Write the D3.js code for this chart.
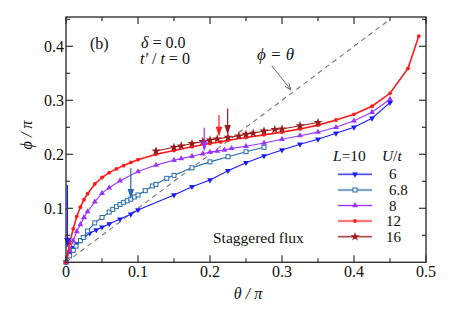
<!DOCTYPE html>
<html>
<head>
<meta charset="utf-8">
<script src="https://cdn.jsdelivr.net/npm/d3@7"></script>
<style>
body { margin: 0; background: #fff; }
</style>
</head>
<body>
<div id="plot"></div>
<script>
// series (theta/pi, phi/pi)
var theta6 = [0, 0.005, 0.01, 0.015, 0.02, 0.025, 0.033, 0.042, 0.05, 0.06, 0.075, 0.09, 0.1, 0.15, 0.175, 0.2, 0.225, 0.25, 0.275, 0.3, 0.325, 0.35, 0.375, 0.4, 0.425, 0.45];
var phi6 = [0, 0.016, 0.027, 0.034, 0.041, 0.047, 0.054, 0.060, 0.065, 0.071, 0.080, 0.089, 0.097, 0.1246, 0.14, 0.1524, 0.1696, 0.1845, 0.197, 0.208, 0.2185, 0.2278, 0.239, 0.25, 0.2667, 0.2956];

var theta68 = [0, 0.005, 0.01, 0.014, 0.02, 0.024, 0.03, 0.04, 0.05, 0.06, 0.065, 0.07, 0.075, 0.08, 0.085, 0.09, 0.095, 0.1, 0.11, 0.12, 0.125, 0.14, 0.15, 0.175, 0.2, 0.225, 0.25, 0.275];
var phi68 = [0, 0.012, 0.022, 0.030, 0.040, 0.046, 0.058, 0.073, 0.083, 0.093, 0.098, 0.103, 0.107, 0.111, 0.114, 0.117, 0.121, 0.1246, 0.1326, 0.1413, 0.1444, 0.1555, 0.161, 0.175, 0.186, 0.1956, 0.2048, 0.213];

var theta8 = [0, 0.005, 0.01, 0.015, 0.02, 0.025, 0.03, 0.04, 0.05, 0.06, 0.075, 0.1, 0.125, 0.15, 0.16, 0.175, 0.19, 0.2, 0.21, 0.22, 0.23, 0.25, 0.275, 0.3, 0.325, 0.35, 0.375, 0.4, 0.425, 0.45];
var phi8 = [0, 0.022, 0.04, 0.057, 0.07, 0.083, 0.094, 0.112, 0.128, 0.138, 0.151, 0.168, 0.18, 0.189, 0.192, 0.1965, 0.201, 0.204, 0.206, 0.208, 0.211, 0.215, 0.221, 0.228, 0.2345, 0.241, 0.25, 0.262, 0.278, 0.302];

var theta12 = [0, 0.005, 0.01, 0.015, 0.02, 0.025, 0.03, 0.04, 0.05, 0.06, 0.07, 0.08, 0.09, 0.1, 0.125, 0.15, 0.175, 0.2, 0.215, 0.225, 0.25, 0.275, 0.3, 0.325, 0.35, 0.375, 0.4, 0.425, 0.45, 0.475, 0.49];
var phi12 = [0, 0.035, 0.062, 0.085, 0.102, 0.116, 0.127, 0.145, 0.157, 0.166, 0.173, 0.179, 0.185, 0.19, 0.2, 0.207, 0.214, 0.22, 0.223, 0.226, 0.231, 0.236, 0.241, 0.247, 0.254, 0.2635, 0.274, 0.289, 0.313, 0.359, 0.419];

var theta16 = [0.125, 0.15, 0.16, 0.175, 0.19, 0.2, 0.21, 0.225, 0.24, 0.25, 0.26, 0.275, 0.29, 0.3, 0.325, 0.35];
var phi16 = [0.206, 0.213, 0.2155, 0.22, 0.2235, 0.2265, 0.2285, 0.2315, 0.234, 0.237, 0.239, 0.243, 0.246, 0.247, 0.253, 0.259];

var uLabels = ["6", "6.8", "8", "12", "16"];
var colors = ["#1a1aff", "#246aa8", "#9933ff", "#ff1a1a", "#991c1c"];

// transition arrows: theta, phi start, phi end
var arrowTheta = [0.002, 0.09, 0.192, 0.2125, 0.2245];
var arrowFrom = [0.143, 0.174, 0.249, 0.273, 0.285];
var arrowTo = [0.027, 0.117, 0.205, 0.2326, 0.2357];

var xTicks = [0, 0.1, 0.2, 0.3, 0.4, 0.5];
var yTicks = [0.1, 0.2, 0.3, 0.4];

var W = 452, H = 317;
var pLeft = 66, pRight = 426, pTop = 17, pBottom = 262.3;
var FONT = "Liberation Serif";

var svg = d3.select("#plot").append("svg")
    .attr("width", W)
    .attr("height", H);

// all text goes through here so the serif font sticks
var label = function(px, py, size) {
    return svg.append("text")
	.attr("x", px).attr("y", py)
	.attr("font-family", FONT)
	.attr("fill", "#111")
	.style("font-size", size + "px");
}

var x = d3.scaleLinear().domain([0, 0.5]).range([pLeft, pRight]);
var y = d3.scaleLinear().domain([0, (pBottom - pTop) / 540]).range([pBottom, pTop]);

var series = [
    {t: theta6, p: phi6, sym: "down"},
    {t: theta68, p: phi68, sym: "square"},
    {t: theta8, p: phi8, sym: "up"},
    {t: theta12, p: phi12, sym: "circle"},
    {t: theta16, p: phi16, sym: "star"}
];

// diagonal phi = theta
svg.append("line")
    .attr("x1", x(0)).attr("y1", y(0))
    .attr("x2", x(0.45)).attr("y2", y(0.45))
    .attr("stroke", "#777")
    .attr("stroke-width", 1.1)
    .attr("stroke-dasharray", "5,4");

var line = d3.line()
    .x(function(d) { return x(d[0]); })
    .y(function(d) { return y(d[1]); });

var drawMarker = function(g, sym, color, cx, cy) {
    if (sym == "circle") {
	g.append("circle").attr("cx", cx).attr("cy", cy).attr("r", 1.9).attr("fill", color);
    } else if (sym == "square") {
	g.append("rect").attr("x", cx - 2).attr("y", cy - 2)
	    .attr("width", 4).attr("height", 4)
	    .attr("fill", "#fff").attr("stroke", color).attr("stroke-width", 1);
    } else {
	var type = sym == "star" ? d3.symbolStar : d3.symbolTriangle;
	var size = sym == "star" ? 26 : 15;
	var rot = sym == "down" ? 180 : 0;
	g.append("path")
	    .attr("d", d3.symbol().type(type).size(size)())
	    .attr("transform", "translate(" + cx + "," + cy + ") rotate(" + rot + ")")
	    .attr("fill", color);
    }
}

series.forEach(function(s, i) {
    var pts = s.t.map(function(t, j) { return [t, s.p[j]]; });
    var g = svg.append("g");
    g.append("path")
	.attr("d", line(pts))
	.attr("fill", "none")
	.attr("stroke", colors[i])
	.attr("stroke-width", i == 3 ? 1.6 : 1.1);
    pts.forEach(function(d) {
	drawMarker(g, s.sym, colors[i], x(d[0]), y(d[1]));
    });
});

// arrows
arrowTheta.forEach(function(t, i) {
    var ax = x(t), y1 = y(arrowFrom[i]), y2 = y(arrowTo[i]);
    svg.append("line")
	.attr("x1", ax).attr("y1", y1)
	.attr("x2", ax).attr("y2", y2 - 8)
	.attr("stroke", colors[i]).attr("stroke-width", 1.2);
    svg.append("path")
	.attr("d", "M" + (ax - 3.2) + "," + (y2 - 10) + "L" + (ax + 3.2) + "," + (y2 - 10) + "L" + ax + "," + y2 + "Z")
	.attr("fill", colors[i]);
});

// gray pointer to the diagonal
svg.append("line")
    .attr("x1", x(0.286)).attr("y1", y(0.3635))
    .attr("x2", x(0.3125)).attr("y2", y(0.319))
    .attr("stroke", "#666").attr("stroke-width", 1);
var ang = Math.atan2(y(0.319) - y(0.3635), x(0.3125) - x(0.286));
var hx = x(0.3125), hy = y(0.319);
svg.append("path")
    .attr("d", "M" + hx + "," + hy +
	  "L" + (hx - 7 * Math.cos(ang - 0.35)) + "," + (hy - 7 * Math.sin(ang - 0.35)) +
	  "M" + hx + "," + hy +
	  "L" + (hx - 7 * Math.cos(ang + 0.35)) + "," + (hy - 7 * Math.sin(ang + 0.35)))
    .attr("stroke", "#666").attr("stroke-width", 1).attr("fill", "none");

// frame and ticks
svg.append("rect")
    .attr("x", pLeft).attr("y", pTop)
    .attr("width", pRight - pLeft).attr("height", pBottom - pTop)
    .attr("fill", "none").attr("stroke", "#333").attr("stroke-width", 1.4);

var xAll = d3.range(0, 0.5001, 0.05);
var yAll = d3.range(0.05, 0.4501, 0.05);
var isMajor = function(v) { return Math.abs(v * 10 - Math.round(v * 10)) < 1e-6; };

var ticks = svg.append("g").attr("stroke", "#333").attr("stroke-width", 1.2);
xAll.forEach(function(v) {
    var len = isMajor(v) ? 7 : 4;
    ticks.append("line").attr("x1", x(v)).attr("x2", x(v)).attr("y1", pBottom).attr("y2", pBottom - len);
    ticks.append("line").attr("x1", x(v)).attr("x2", x(v)).attr("y1", pTop).attr("y2", pTop + len);
});
yAll.forEach(function(v) {
    var len = isMajor(v) ? 7 : 4;
    ticks.append("line").attr("y1", y(v)).attr("y2", y(v)).attr("x1", pLeft).attr("x2", pLeft + len);
    ticks.append("line").attr("y1", y(v)).attr("y2", y(v)).attr("x1", pRight).attr("x2", pRight - len);
});

xTicks.forEach(function(d) {
    label(x(d), 277, 16).attr("text-anchor", "middle")
	.text(d == 0 ? "0" : d3.format(".1f")(d));
});
yTicks.forEach(function(d) {
    label(64, y(d) + 5.5, 16).attr("text-anchor", "end")
	.text(d3.format(".1f")(d));
});

// axis titles
label(0, 0, 16)
    .attr("transform", "translate(32,135) rotate(-90)")
    .attr("text-anchor", "middle")
    .style("font-style", "italic")
    .text("\u03d5 / \u03c0");

label(248, 299, 16)
    .attr("text-anchor", "middle")
    .style("font-style", "italic")
    .text("\u03b8 / \u03c0");

// annotations
label(90, 49, 16).text("(b)");
label(141, 48, 16).html('<tspan font-style="italic">\u03b4</tspan> = 0.0');
label(140, 64, 16).html('<tspan font-style="italic">t\u2032</tspan> / <tspan font-style="italic">t</tspan> = 0');
label(257, 60, 17).style("font-style", "italic").text("\u03d5 = \u03b8");
label(213, 243, 15.5).text("Staggered flux");

// legend
label(333, 161, 15.5)
    .html('<tspan font-style="italic">L</tspan>=10<tspan font-style="italic" dx="16">U</tspan>/<tspan font-style="italic">t</tspan>');

var legendY = [174.3, 190, 205.5, 221, 236.7];
series.forEach(function(s, i) {
    var g = svg.append("g");
    g.append("line").attr("x1", 338).attr("x2", 372).attr("y1", legendY[i]).attr("y2", legendY[i])
	.attr("stroke", colors[i]).attr("stroke-opacity", 0.18).attr("stroke-width", 3);
    g.append("line").attr("x1", 338).attr("x2", 372).attr("y1", legendY[i]).attr("y2", legendY[i])
	.attr("stroke", colors[i]).attr("stroke-width", 1.1);
    drawMarker(g, s.sym, colors[i], 355, legendY[i]);
    label(i < 3 ? 389 : 386, legendY[i] + 5, 15).text(uLabels[i]);
});
</script>
</body>
</html>
